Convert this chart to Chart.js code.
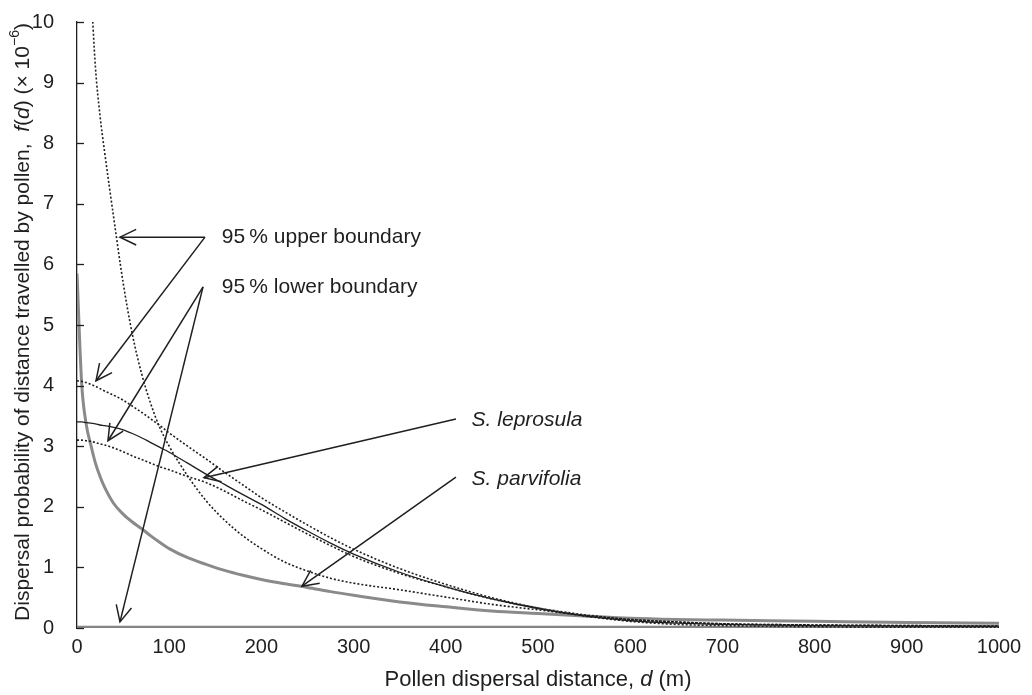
<!DOCTYPE html>
<html>
<head>
<meta charset="utf-8">
<script src="https://cdn.jsdelivr.net/npm/chart.js@4.4.1/dist/chart.umd.min.js"></script>
<style>
  html, body { margin: 0; padding: 0; background: #fff; }
  #wrap { width: 1032px; height: 695px; }
</style>
</head>
<body>
<div id="wrap"><canvas id="pollenChart"></canvas></div>
<script>
// distance d (m) and f(d) (x 10^-6)
const distances = [0, 5, 10, 15, 20, 25, 30, 40, 50, 60, 70, 80, 90, 100, 120, 140, 160, 180, 200, 225, 250, 275, 300, 350, 400, 450, 500, 550, 600, 650, 700, 800, 900, 1000];

const leprosula      = [3.40, 3.40, 3.39, 3.38, 3.37, 3.35, 3.34, 3.31, 3.27, 3.21, 3.14, 3.06, 2.98, 2.90, 2.72, 2.54, 2.37, 2.20, 2.04, 1.81, 1.60, 1.40, 1.22, 0.92, 0.68, 0.48, 0.32, 0.20, 0.12, 0.08, 0.06, 0.04, 0.03, 0.03];
const leprosulaUpper = [4.08, 4.07, 4.05, 4.02, 3.99, 3.95, 3.91, 3.84, 3.76, 3.66, 3.56, 3.45, 3.34, 3.22, 3.00, 2.79, 2.57, 2.36, 2.15, 1.92, 1.70, 1.49, 1.30, 0.98, 0.72, 0.50, 0.33, 0.20, 0.11, 0.06, 0.04, 0.02, 0.01, 0.01];
const leprosulaLower = [3.10, 3.10, 3.09, 3.08, 3.06, 3.04, 3.02, 2.97, 2.91, 2.84, 2.78, 2.72, 2.66, 2.61, 2.50, 2.40, 2.26, 2.10, 1.95, 1.75, 1.55, 1.36, 1.18, 0.90, 0.68, 0.48, 0.33, 0.22, 0.14, 0.10, 0.07, 0.05, 0.04, 0.03];

const parvifolia      = [5.85, 4.05, 3.36, 3.02, 2.72, 2.50, 2.32, 2.05, 1.88, 1.75, 1.64, 1.52, 1.41, 1.31, 1.16, 1.05, 0.95, 0.87, 0.80, 0.73, 0.67, 0.60, 0.54, 0.43, 0.35, 0.28, 0.24, 0.20, 0.16, 0.14, 0.13, 0.11, 0.09, 0.08];
const parvifoliaUpper = [null, null, null, 10.6, 9.25, 8.45, 7.85, 6.75, 5.70, 4.85, 4.20, 3.70, 3.30, 3.00, 2.51, 2.10, 1.78, 1.52, 1.31, 1.09, 0.94, 0.82, 0.74, 0.63, 0.51, 0.39, 0.30, 0.21, 0.14, 0.10, 0.07, 0.05, 0.04, 0.03];
const parvifoliaLower = [0, 0, 0, 0, 0, 0, 0, 0, 0, 0, 0, 0, 0, 0, 0, 0, 0, 0, 0, 0, 0, 0, 0, 0, 0, 0, 0, 0, 0, 0, 0, 0, 0, 0];

const yTicks = [0, 1, 2, 3, 4, 5, 6, 7, 8, 9, 10];
const xTicks = [0, 100, 200, 300, 400, 500, 600, 700, 800, 900, 1000];

// annotation arrows, in data units [d, f(d)]
const arrows = [
  { from: [138.8, 6.45], to: [46.6, 6.45] },
  { from: [138.8, 6.45], to: [20.6, 4.08] },
  { from: [136.7, 5.63], to: [33.6, 3.09] },
  { from: [136.7, 5.63], to: [46.6, 0.10] },
  { from: [411, 3.45], to: [137.7, 2.48] },
  { from: [411, 2.49], to: [244, 0.69] }
];
const notes = [
  { text: '95\u2009% upper boundary', at: [157, 6.45], italic: false },
  { text: '95\u2009% lower boundary', at: [157, 5.63], italic: false },
  { text: 'S. leprosula', at: [428, 3.43], italic: true },
  { text: 'S. parvifolia', at: [428, 2.46], italic: true }
];

const FONT = '"Liberation Sans", Arial, Helvetica, sans-serif';
const INK = '#1f1f1f';

function pts(values) {
  return distances.map((d, i) => ({ x: d, y: values[i] }));
}

function line(values, opts) {
  return Object.assign({
    data: pts(values),
    borderColor: INK,
    borderWidth: 1.4,
    pointRadius: 0,
    fill: false,
    cubicInterpolationMode: 'monotone',
    spanGaps: false
  }, opts);
}

const annotate = {
  id: 'annotate',
  afterDraw(chart) {
    const { ctx, chartArea } = chart;
    const xs = chart.scales.x, ys = chart.scales.y;
    const px = p => [xs.getPixelForValue(p[0]), ys.getPixelForValue(p[1])];

    ctx.save();
    // inward tick marks on the y axis
    ctx.strokeStyle = INK;
    ctx.lineWidth = 1.3;
    ys.ticks.forEach(t => {
      const y = Math.round(ys.getPixelForValue(t.value)) + 0.5;
      ctx.beginPath();
      ctx.moveTo(chartArea.left, y);
      ctx.lineTo(chartArea.left + 7, y);
      ctx.stroke();
    });

    // arrows with open heads
    ctx.lineWidth = 1.5;
    arrows.forEach(a => {
      const [x1, y1] = px(a.from);
      const [x2, y2] = px(a.to);
      ctx.beginPath();
      ctx.moveTo(x1, y1);
      ctx.lineTo(x2, y2);
      ctx.stroke();
      const ang = Math.atan2(y1 - y2, x1 - x2);
      const len = 18, spread = 0.45;
      ctx.beginPath();
      ctx.moveTo(x2 + len * Math.cos(ang - spread), y2 + len * Math.sin(ang - spread));
      ctx.lineTo(x2, y2);
      ctx.lineTo(x2 + len * Math.cos(ang + spread), y2 + len * Math.sin(ang + spread));
      ctx.stroke();
    });

    // labels
    ctx.fillStyle = INK;
    ctx.textBaseline = 'middle';
    ctx.textAlign = 'left';
    notes.forEach(n => {
      const [x, y] = px(n.at);
      ctx.font = (n.italic ? 'italic ' : '') + '21px ' + FONT;
      ctx.fillText(n.text, x, y);
    });

    // axis titles with italic symbols
    const drawParts = (parts, cx, cy) => {
      let total = 0;
      parts.forEach(p => { ctx.font = p.font; total += ctx.measureText(p.t).width; });
      let x = cx - total / 2;
      parts.forEach(p => {
        ctx.font = p.font;
        ctx.fillText(p.t, x, cy + (p.dy || 0));
        x += ctx.measureText(p.t).width;
      });
    };
    drawParts([
      { t: 'Pollen dispersal distance, ', font: '22px ' + FONT },
      { t: 'd', font: 'italic 22px ' + FONT },
      { t: ' (m)', font: '22px ' + FONT }
    ], (chartArea.left + chartArea.right) / 2, 680);

    const reg = '21px ' + FONT, ita = 'italic 21px ' + FONT;
    ctx.translate(23, 322);
    ctx.rotate(-Math.PI / 2);
    drawParts([
      { t: 'Dispersal probability of distance travelled by pollen,  ', font: reg },
      { t: 'f', font: ita },
      { t: '(', font: reg },
      { t: 'd', font: ita },
      { t: ') (\u00d7 10', font: reg },
      { t: '\u22126', font: '14px ' + FONT, dy: -8 },
      { t: ')', font: reg }
    ], 0, 0);
    ctx.restore();
  }
};

const ctx = document.getElementById('pollenChart').getContext('2d');
const chart = new Chart(ctx, {
  type: 'line',
  data: {
    datasets: [
      line(parvifoliaLower, { label: 'S. parvifolia lower', borderColor: '#858585', borderWidth: 4.5, order: 6 }),
      line(parvifolia, { label: 'S. parvifolia', borderColor: '#8a8a8a', borderWidth: 3, order: 5 }),
      line(parvifoliaUpper, { label: 'S. parvifolia upper', borderWidth: 1.6, borderDash: [2, 2], order: 4 }),
      line(leprosulaUpper, { label: 'S. leprosula upper', borderWidth: 1.6, borderDash: [2, 2], order: 3 }),
      line(leprosulaLower, { label: 'S. leprosula lower', borderWidth: 1.6, borderDash: [2, 2], order: 2 }),
      line(leprosula, { label: 'S. leprosula', borderWidth: 1.3, order: 1 })
    ]
  },
  options: {
    responsive: true,
    maintainAspectRatio: false,
    animation: false,
    layout: { padding: { top: 22, right: 33, left: 0, bottom: 0 } },
    plugins: { legend: { display: false }, tooltip: { enabled: false } },
    scales: {
      x: {
        type: 'linear',
        min: 0,
        max: 1000,
        afterBuildTicks: s => { s.ticks = xTicks.map(v => ({ value: v })); },
        afterFit: s => { s.height = 67; s.paddingLeft = 0; s.paddingRight = 0; },
        grid: { display: false, drawTicks: false },
        border: { display: false },
        ticks: { color: INK, padding: 7, maxRotation: 0, font: { family: FONT, size: 20 }, callback: v => String(v) }
      },
      y: {
        min: 0,
        max: 10,
        afterBuildTicks: s => { s.ticks = yTicks.map(v => ({ value: v })); },
        afterFit: s => { s.width = 77; s.paddingTop = 0; s.paddingBottom = 0; },
        grid: { display: false, drawTicks: false },
        border: { display: true, color: INK, width: 1.3 },
        ticks: { color: INK, padding: 23, font: { family: FONT, size: 20 }, callback: v => String(v) }
      }
    }
  },
  plugins: [annotate]
});
</script>
</body>
</html>
